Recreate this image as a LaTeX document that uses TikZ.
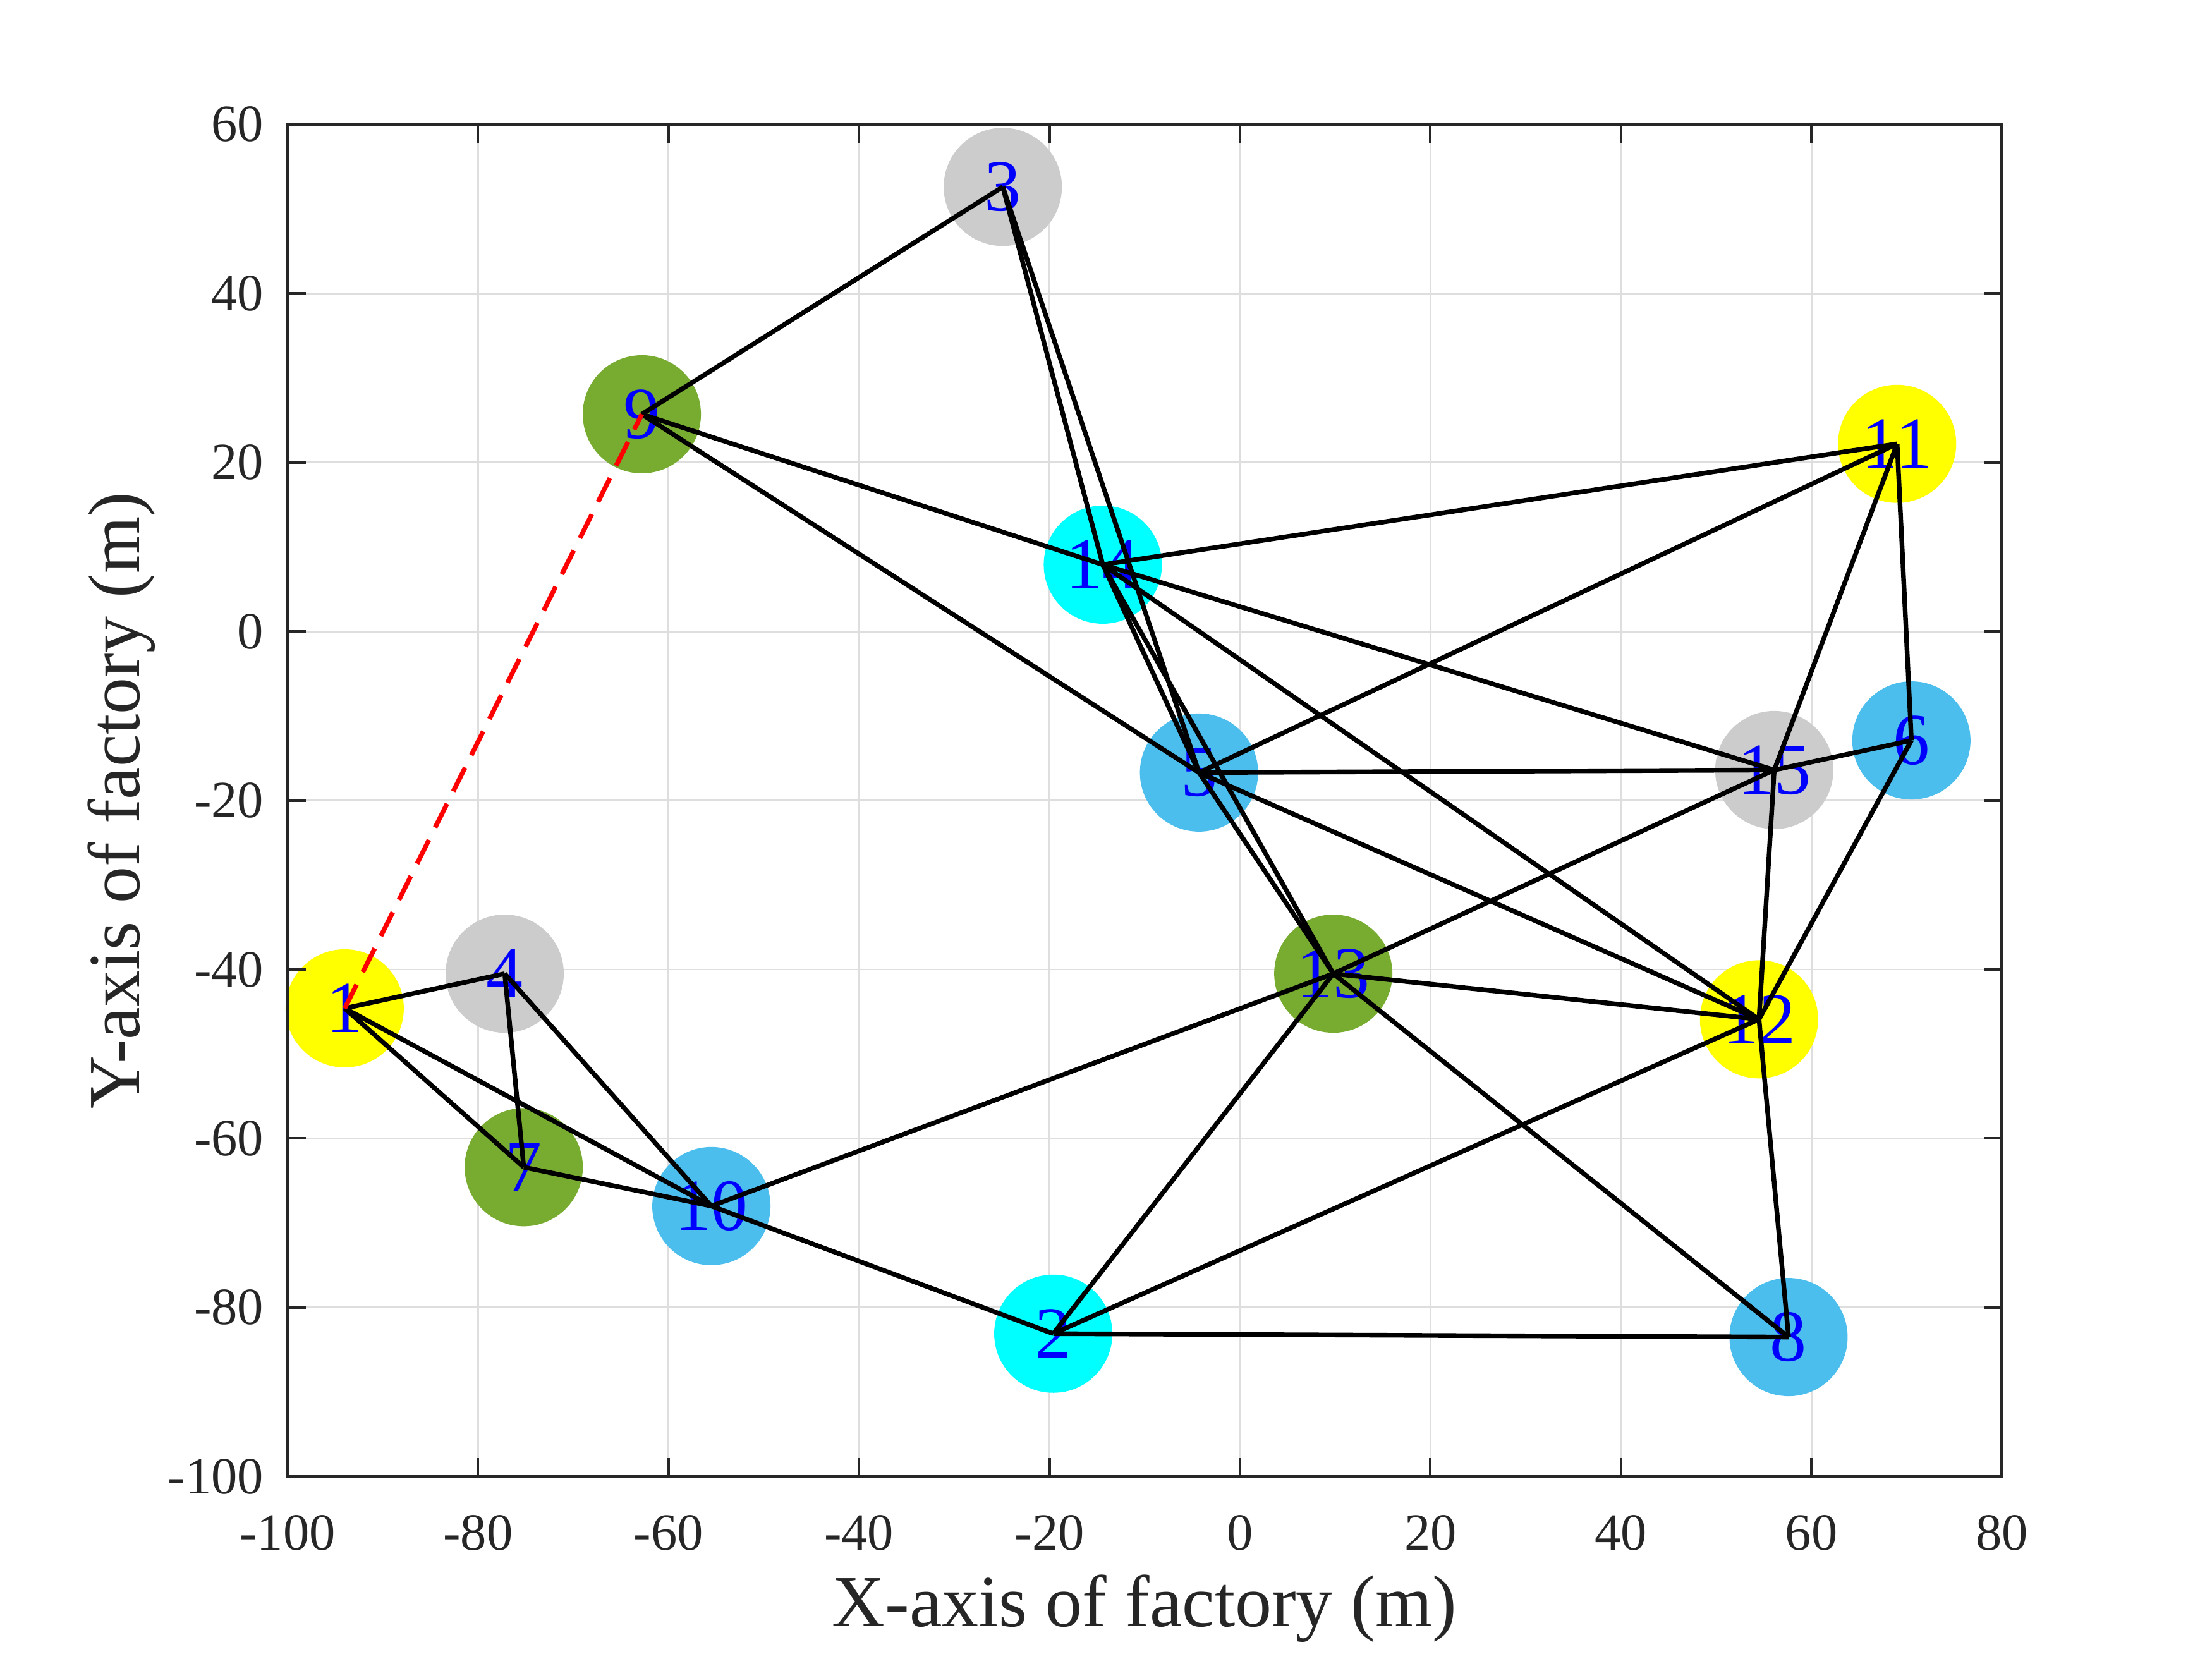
\documentclass[tikz,border=0pt]{standalone}
\usepackage{fontspec}
\setmainfont{Liberation Serif}
\definecolor{axc}{gray}{0.15}
\definecolor{gridc}{HTML}{DEDEDE}
\definecolor{myyellow}{rgb}{1,1,0}
\definecolor{mygrey}{rgb}{0.8,0.8,0.8}
\definecolor{mycyan}{rgb}{0,1,1}
\definecolor{myblue}{rgb}{0.30,0.745,0.933}
\definecolor{mygreen}{rgb}{0.466,0.674,0.188}
\tikzset{
  site/.style={circle, minimum size=1.87cm, inner sep=0pt, text=blue, font=\fontsize{33}{33}\selectfont},
  route/.style={black, line width=2.1pt, line join=round},
  link/.style={red, line width=2.1pt, dash pattern=on 0.42cm off 0.22cm},
  gridline/.style={gridc, line width=0.8pt},
  axisline/.style={axc, line width=1.2pt},
  ticklab/.style={text=axc, font=\fontsize{23.5}{23.5}\selectfont, inner sep=0pt},
  axlab/.style={text=axc, font=\fontsize{33}{33}\selectfont, inner sep=0pt},
}
\begin{document}
\begin{tikzpicture}
\useasboundingbox (0,0) rectangle (35,26.25);
\begin{scope}[shift={(19.6194cm,16.2586cm)}, x=0.150694cm, y=0.133711cm]
  % grid
  \foreach \gx in {-80,-60,...,60} \draw[gridline] (\gx,-100) -- (\gx,60);
  \foreach \gy in {-80,-60,...,40} \draw[gridline] (-100,\gy) -- (80,\gy);
  % sites
  \node[site, fill=myyellow] (n1)  at (-94.0,-44.6) {1};
  \node[site, fill=mycyan]   (n2)  at (-19.6,-83.1) {2};
  \node[site, fill=mygrey]   (n3)  at (-24.9,52.6)  {3};
  \node[site, fill=mygrey]   (n4)  at (-77.2,-40.5) {4};
  \node[site, fill=myblue]   (n5)  at (-4.3,-16.7)  {5};
  \node[site, fill=myblue]   (n6)  at (70.5,-12.9)  {6};
  \node[site, fill=mygreen]  (n7)  at (-75.2,-63.4) {7};
  \node[site, fill=myblue]   (n8)  at (57.6,-83.5)  {8};
  \node[site, fill=mygreen]  (n9)  at (-62.8,25.7)  {9};
  \node[site, fill=myblue]   (n10) at (-55.5,-68.0) {10};
  \node[site, fill=myyellow] (n11) at (69.0,22.2)   {11};
  \node[site, fill=myyellow] (n12) at (54.5,-45.9)  {12};
  \node[site, fill=mygreen]  (n13) at (9.8,-40.5)   {13};
  \node[site, fill=mycyan]   (n14) at (-14.4,7.9)   {14};
  \node[site, fill=mygrey]   (n15) at (56.1,-16.4)  {15};
  % routes
  \foreach \a/\b in {1/4,1/7,1/10,4/7,4/10,7/10,10/2,10/13,2/13,2/12,2/8,13/8,13/12,13/15,13/5,13/14,12/8,12/15,12/6,12/5,12/14,15/5,15/14,15/11,15/6,11/6,11/5,11/14,5/9,5/3,5/14,14/9,14/3,9/3}
    \draw[route] (n\a.center) -- (n\b.center);
  \draw[link] (n1.center) -- (n9.center);
  % axes box and ticks
  \draw[axisline] (-100,-100) rectangle (80,60);
  \foreach \tx [count=\i] in {-100,-80,...,80} {
    \draw[axisline] (\tx,-100) -- ++(0,0.29cm);
    \draw[axisline] (\tx,60) -- ++(0,-0.29cm);
    \node[ticklab, anchor=north] (xt\i) at ([yshift=-0.61cm]\tx,-100) {\tx};
  }
  \foreach \ty [count=\j] in {-100,-80,...,60} {
    \draw[axisline] (-100,\ty) -- ++(0.29cm,0);
    \draw[axisline] (80,\ty) -- ++(-0.29cm,0);
    \node[ticklab, anchor=east] (yt\j) at ([xshift=-0.37cm]-100,\ty) {\ty};
  }
\end{scope}
\node[axlab, anchor=base] (xlab) at (18.11,0.51) {X-axis of factory (m)};
\node[axlab, anchor=base, rotate=90] (ylab) at (2.20,13.58) {Y-axis of factory (m)};
\end{tikzpicture}
\end{document}
